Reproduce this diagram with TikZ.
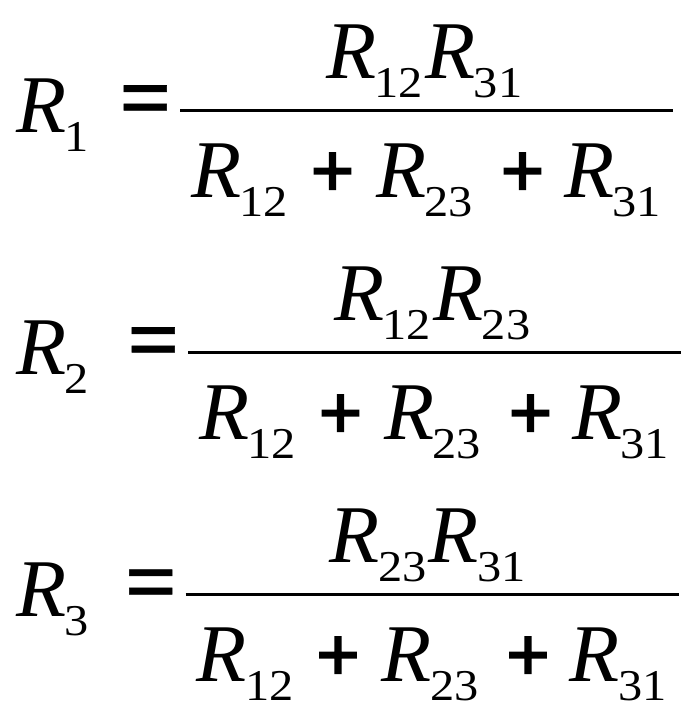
\documentclass[tikz,border=0pt]{standalone}
\usepackage{fontspec}
\setmainfont{Liberation Serif}
\newfontfamily\indexfont[FakeStretch=1.1]{Liberation Serif}
\newfontfamily\signfont[FakeBold=2]{Liberation Serif}
\newfontfamily\eqfont[FakeBold=0.6]{Liberation Serif}
\usepackage{tikz}
\usetikzlibrary{calc}
\def\Resistor#1#2#3{%
	\node[res letter] (#1) at (#2) {R};
	\node[res index] (#1i) at ($(#1.base east)+(-2,19)$) {#3};
}
\def\StarFormula#1#2#3#4#5#6{%
	\Resistor{left#1}{16,132+#3}{#1}
	\begin{scope}[shift={(#2,#3)}]
		\node[equal sign] (eq#1) at (145.5,107) {=};
		\coordinate (fs#1) at (180,110.5);
		\coordinate (fe#1) at (673,110.5);
		\draw[frac line] (fs#1) -- (fe#1);
		\Resistor{num#1a}{#6,78}{#4}
		\Resistor{num#1b}{$(num#1ai.base east)+(2,-19)$}{#5}
		\Resistor{den#1a}{191,197}{12}
		\node[plus sign] (pa#1) at (332.5,175) {+};
		\Resistor{den#1b}{376,197}{23}
		\node[plus sign] (pb#1) at (522.5,175) {+};
		\Resistor{den#1c}{564,197}{31}
	\end{scope}
}

\begin{document}
\begin{tikzpicture}[x=1pt, y=-1pt,
	res letter/.style={anchor=base west, inner sep=0pt,
		font=\fontsize{82}{90}\selectfont\itshape},
	res index/.style={anchor=base west, inner sep=0pt,
		font=\indexfont\fontsize{44}{50}\selectfont},
	plus sign/.style={inner sep=0pt, font=\signfont\fontsize{78}{80}\selectfont\bfseries},
	equal sign/.style={inner sep=0pt, font=\eqfont\fontsize{92}{95}\selectfont\bfseries},
	frac line/.style={line width=3pt}]
\useasboundingbox[fill=white] (0,0) rectangle (694,721);
\StarFormula{1}{0}{0}{12}{31}{326}
\StarFormula{2}{8}{242}{12}{23}{326}
\StarFormula{3}{5.5}{484}{23}{31}{324}
\end{tikzpicture}
\end{document}
